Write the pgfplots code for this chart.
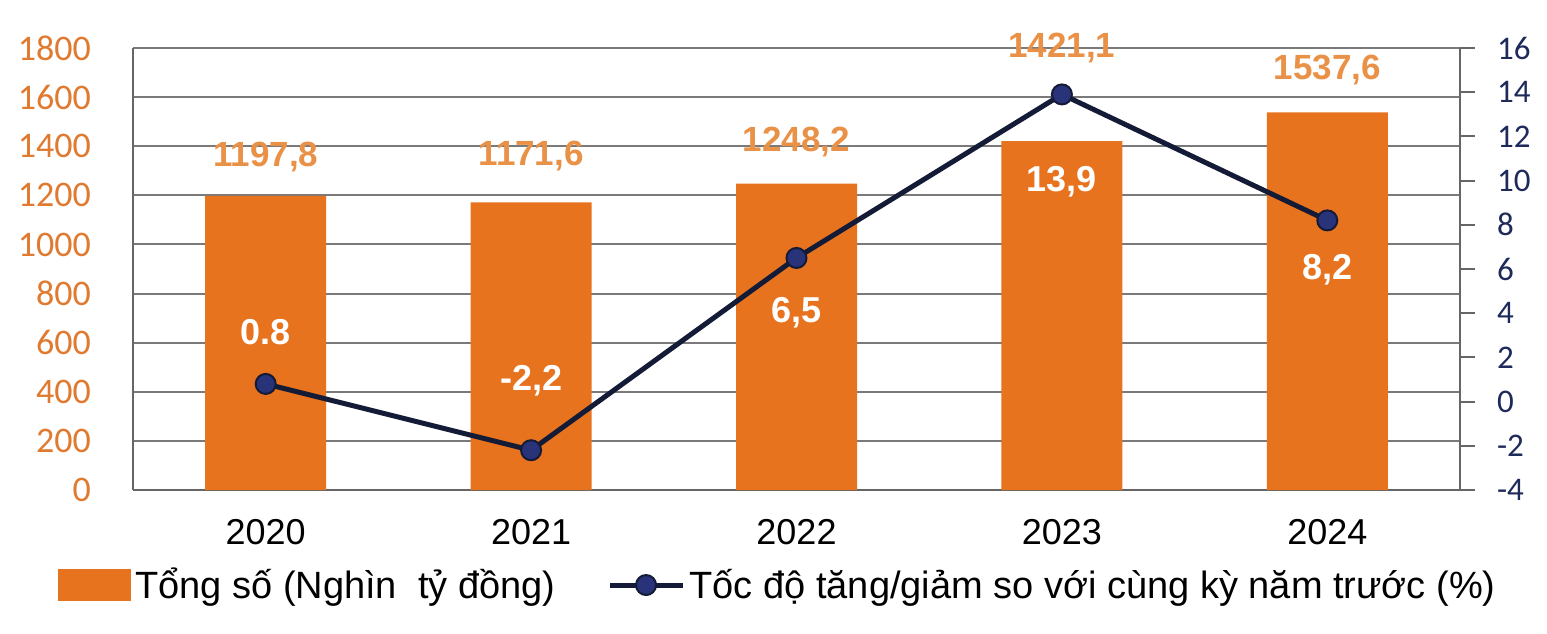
\documentclass[border=0pt]{standalone}
\usepackage{pgfplots}
\pgfplotsset{compat=1.18}
\usepackage{pgfplotstable}
\usepackage{fontspec}
\setmainfont{Liberation Sans}
\newfontfamily\calibri{Carlito}
\definecolor{barorange}{HTML}{E8731F}
\definecolor{ticko}{HTML}{E07A30}
\definecolor{labo}{HTML}{EA9148}
\definecolor{navyline}{HTML}{141B36}
\definecolor{navymark}{HTML}{28337A}
\definecolor{navytick}{HTML}{1E2A5A}
\definecolor{gridgray}{HTML}{7A7A7A}
\definecolor{axisgray}{HTML}{666666}

\pgfplotstableread{
x lab total off
0 1197,8 1197.8 19.5
1 1171,6 1171.6 23
2 1248,2 1248.2 21
3 1421,1 1421.1 46.5
4 1537,6 1537.6 21
}\bars

\pgfplotstableread{
x lab rate off
0 0.8 0.8 26
1 -2,2 -2.2 35
2 6,5 6.5 -27.5
3 13,9 13.9 -43.5
4 8,2 8.2 -24.5
}\rates

\begin{document}
\begin{tikzpicture}
\path[use as bounding box] (-66.5pt,-71.5pt) rectangle (707pt,245pt);
\begin{axis}[
  at={(0pt,0pt)}, anchor=south west,
  scale only axis, width=663.5pt, height=221pt,
  xmin=-0.5, xmax=4.5, ymin=0, ymax=1800,
  xtick={0,1,2,3,4}, xticklabels={2020,2021,2022,2023,2024},
  ytick={0,200,...,1800},
  axis x line*=bottom, axis y line*=left,
  x axis line style={-, draw=axisgray, line width=1pt},
  y axis line style={-, draw=axisgray, line width=1pt},
  ymajorgrids, grid style={draw=gridgray, line width=1pt},
  major tick length=0pt, tick style={draw=none},
  /pgf/number format/assume math mode=true,
  /pgf/number format/1000 sep={},
  yticklabel style={font=\calibri\fontsize{18}{18}\selectfont, text=ticko, xshift=-17.5pt},
  xticklabel style={font=\fontsize{18}{18}\selectfont, text=black, yshift=-11pt},
  ybar, bar width=60.5pt,
  nodes near coords, point meta=explicit symbolic,
  visualization depends on={\thisrow{off} \as \off},
  every node near coord/.append style={anchor=center, yshift=\off pt,
     font=\bfseries\fontsize{17.5}{17.5}\selectfont, text=labo},
]
\addplot[fill=barorange, draw=none] table[x=x, y=total, meta=lab]{\bars};
\end{axis}
\begin{axis}[
  at={(0pt,0pt)}, anchor=south west,
  scale only axis, width=663.5pt, height=221pt,
  xmin=-0.5, xmax=4.5, ymin=-4, ymax=16,
  xtick=\empty, ytick={-4,-2,...,16},
  axis x line=none, axis y line*=right,
  y axis line style={-, draw=axisgray, line width=1pt},
  tick align=outside, major tick length=7.5pt,
  ytick style={draw=axisgray, line width=1pt},
  /pgf/number format/assume math mode=true,
  yticklabel style={font=\calibri\fontsize{16.5}{16.5}\selectfont, text=navytick, xshift=7.5pt},
  nodes near coords, point meta=explicit symbolic,
  visualization depends on={\thisrow{off} \as \off},
  every node near coord/.append style={anchor=center, yshift=\off pt,
     font=\bfseries\fontsize{18}{18}\selectfont, text=white},
  legend columns=2,
  legend style={at={(-0.0565,-0.215)}, anchor=west, draw=none, fill=none,
     inner sep=0pt, font=\fontsize{19}{19}\selectfont,
     /tikz/every even column/.append style={column sep=24pt},
     cells={anchor=west}, nodes={inner sep=2pt}},
]
\addlegendimage{legend image code/.code={\fill[barorange] (0pt,-7.75pt) rectangle (36pt,7.75pt);}}
\addlegendentry{Tổng số (Nghìn\ \ tỷ đồng)}
\addplot[navyline, line width=2.5pt, mark=*, mark size=5pt,
   mark options={fill=navymark, draw=navyline, line width=1pt},
   legend image code/.code={\draw[navyline, line width=2.5pt] (0pt,0pt) -- (36.5pt,0pt);
      \fill[navymark, draw=navyline, line width=1pt] (18pt,0pt) circle (5pt);}]
   table[x=x, y=rate, meta=lab]{\rates};
\addlegendentry{Tốc độ tăng/giảm so với cùng kỳ năm trước (\%)}
\end{axis}
\end{tikzpicture}
\end{document}
